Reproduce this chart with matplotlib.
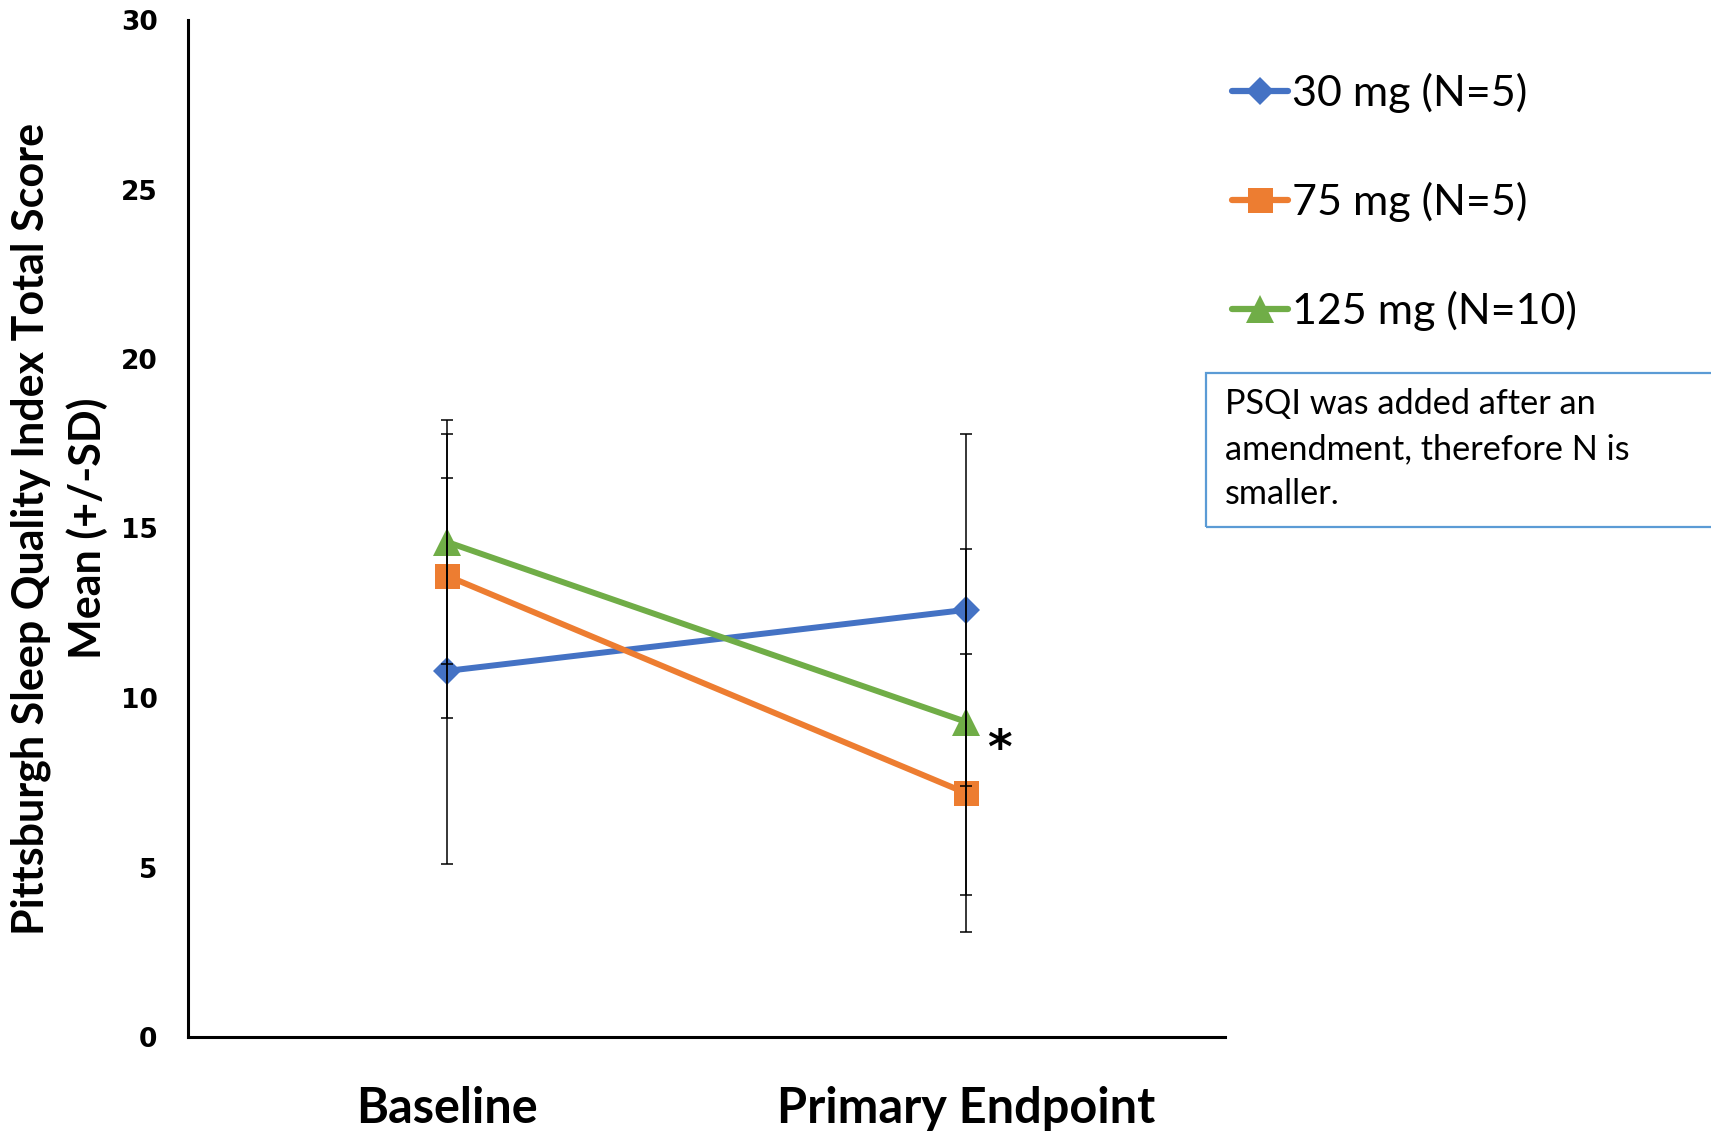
import matplotlib
matplotlib.use("Agg")
import matplotlib.pyplot as plt
from matplotlib.lines import Line2D
from matplotlib.patches import Rectangle

# PSQI total score, mean and SD per dose group
visits = ["Baseline", "Primary Endpoint"]
groups = ["30 mg (N=5)", "75 mg (N=5)", "125 mg (N=10)"]
mean_30 = [10.8, 12.6]
sd_30 = [5.7, 5.2]
mean_75 = [13.6, 7.2]
sd_75 = [4.2, 4.1]
mean_125 = [14.6, 9.3]
sd_125 = [3.6, 5.1]
note = "PSQI was added after an\namendment, therefore N is\nsmaller."

colors = ["#4472C4", "#ED7D31", "#70AD47"]
markers = ["D", "s", "^"]
msizes = [14.5, 18, 19.5]
means = [mean_30, mean_75, mean_125]
sds = [sd_30, sd_75, sd_125]

fig = plt.figure(figsize=(17.11, 11.32), dpi=100)
ax = fig.add_axes([188/1711, 1 - 1037/1132, (1225-188)/1711, (1037-20)/1132])

x = list(range(len(visits)))
for m, s, c, mk, ms, lab in zip(means, sds, colors, markers, msizes, groups):
    ax.plot(x, m, color=c, lw=4.3, marker=mk, ms=ms, mec=c, mew=0,
            zorder=2, label=lab, solid_capstyle="round")
    ax.errorbar(x, m, yerr=s, fmt="none", ecolor="black", elinewidth=1.1,
                capsize=4.5, capthick=1.1, zorder=3)

# significance mark next to the 125 mg endpoint
ax.annotate("*", xy=(1, mean_125[1]), xytext=(24, -21), textcoords="offset points",
            fontsize=34, fontweight="bold", ha="center", va="center")

ax.set_xlim(-0.5, 1.5)
ax.set_ylim(0, 30)
ax.set_yticks(range(0, 31, 5))
ax.set_xticks(x)
ax.set_xticklabels(visits, fontsize=35, fontweight="bold", family="Lato")
ax.tick_params(axis="x", length=0, pad=35)
ax.tick_params(axis="y", length=0, pad=22, labelsize=19)
for t in ax.get_yticklabels():
    t.set_fontweight("bold")

for sp in ["top", "right"]:
    ax.spines[sp].set_visible(False)
for sp in ["left", "bottom"]:
    ax.spines[sp].set_linewidth(2.2)

ax.set_ylabel("Pittsburgh Sleep Quality Index Total Score\nMean (+/-SD)",
              fontsize=31, fontweight="bold", family="Lato", linespacing=1.45)
ax.yaxis.set_label_coords(-0.077, 0.5)

leg_handles = [Line2D([0], [0], color=c, lw=4.5, marker=mk, ms=ms, mew=0,
                      solid_capstyle="round")
               for c, mk, ms in zip(colors, markers, msizes)]
fig.legend(leg_handles, groups, loc="upper left", bbox_to_anchor=(1193/1711, 1 - 34/1132),
           frameon=False, prop={"family": "Lato", "size": 31},
           handlelength=1.3, handletextpad=0.1, labelspacing=1.6)

box = Rectangle((1206/1711, 1 - 527/1132), 0.4, 154/1132, transform=fig.transFigure,
                fill=False, edgecolor="#5B9BD5", lw=1.6)
fig.patches.append(box)
fig.text(1225/1711, 1 - 388/1132, note, fontsize=24.7, family="Lato", va="top",
         ha="left", linespacing=1.5)

fig.savefig("out.png", dpi=100)
